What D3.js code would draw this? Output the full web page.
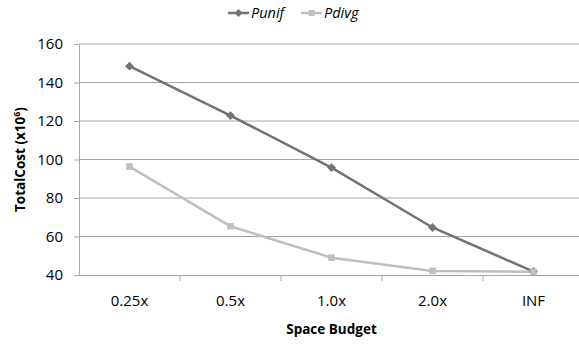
<!DOCTYPE html>
<html>
<head>
<meta charset="utf-8">
<script src="https://cdn.jsdelivr.net/npm/d3@7"></script>
<style>
  html, body { margin: 0; padding: 0; background: #fff; }
  svg { display: block; font-family: "Open Sans", Lato, sans-serif; }
</style>
</head>
<body>
<svg id="chart" width="579" height="345"></svg>
<script>
// Budget levels on the x axis
const categories = ["0.25x", "0.5x", "1.0x", "2.0x", "INF"];
// Total cost (x10^6) for each strategy
const punif = [148.5, 122.8, 95.8, 64.7, 41.8];
const pdivg = [96.3, 65.3, 49.0, 42.1, 41.7];
const yTicks = [40, 60, 80, 100, 120, 140, 160];

const series = [
  { name: "Punif", values: punif, color: "#737373", marker: "diamond" },
  { name: "Pdivg", values: pdivg, color: "#bfbfbf", marker: "square" }
];

const fontFamily = "'Open Sans', Lato, sans-serif";
const svg = d3.select("#chart");
const plotLeft = 79, plotRight = 584, plotTop = 44, plotBottom = 275;

const x = d3.scaleBand().domain(categories).range([plotLeft, plotRight]).padding(0);
const y = d3.scaleLinear().domain([40, 160]).range([plotBottom, plotTop]);

// Horizontal gridlines
svg.append("g")
  .selectAll("line")
  .data(yTicks.filter(d => d > 40))
  .join("line")
  .attr("x1", plotLeft).attr("x2", plotRight)
  .attr("y1", d => y(d)).attr("y2", d => y(d))
  .attr("stroke", "#a6a6a6").attr("stroke-width", 1);

// Y axis
const yAxis = svg.append("g")
  .attr("transform", `translate(${plotLeft},0)`)
  .call(d3.axisLeft(y).tickValues(yTicks).tickSize(5).tickPadding(11));
yAxis.select(".domain").attr("stroke", "#a6a6a6");
yAxis.selectAll(".tick line").attr("stroke", "#a6a6a6");
yAxis.selectAll(".tick text").attr("font-size", 15).attr("fill", "#000")
  .attr("font-family", fontFamily);

// X axis: ticks sit on band boundaries
const xAxis = svg.append("g")
  .attr("transform", `translate(0,${plotBottom})`)
  .call(d3.axisBottom(x).tickSize(0).tickPadding(20));
xAxis.select(".domain").attr("stroke", "#a6a6a6").attr("d", `M${plotLeft},0.5H${plotRight}`);
xAxis.selectAll(".tick text").attr("font-size", 15).attr("fill", "#000")
  .attr("font-family", fontFamily);
svg.append("g")
  .selectAll("line")
  .data(categories.slice(1))
  .join("line")
  .attr("x1", d => x(d)).attr("x2", d => x(d))
  .attr("y1", plotBottom).attr("y2", plotBottom + 6)
  .attr("stroke", "#a6a6a6");

// Axis titles
svg.append("text")
  .attr("x", x("1.0x") + x.bandwidth() / 2).attr("y", 334)
  .attr("text-anchor", "middle").attr("font-weight", "bold").attr("font-size", 13.5)
  .text("Space Budget");

const yTitle = svg.append("text")
  .attr("transform", `translate(25,${(plotTop + plotBottom) / 2}) rotate(-90)`)
  .attr("text-anchor", "middle").attr("font-weight", "bold").attr("font-size", 13.5);
yTitle.append("tspan").text("TotalCost (x10");
yTitle.append("tspan").attr("font-size", 9).attr("dy", -5).text("6");
yTitle.append("tspan").attr("dy", 5).text(")");

// Lines and markers
const line = d3.line()
  .x((d, i) => x(categories[i]) + x.bandwidth() / 2)
  .y(d => y(d));

const diamond = d3.symbol().type(d3.symbolDiamond2).size(50);
const square = d3.symbol().type(d3.symbolSquare2).size(56);

series.forEach(s => {
  svg.append("path")
    .datum(s.values)
    .attr("d", line)
    .attr("fill", "none")
    .attr("stroke", s.color)
    .attr("stroke-width", 2.5);
});
series.forEach(s => {
  svg.append("g")
    .selectAll("path")
    .data(s.values)
    .join("path")
    .attr("transform", (d, i) => `translate(${x(categories[i]) + x.bandwidth() / 2},${y(d)})`)
    .attr("d", s.marker === "diamond" ? diamond() : square())
    .attr("fill", s.color);
});

// Legend
const legend = svg.append("g");
const legendPos = [{ x: 228, tx: 251 }, { x: 301, tx: 324 }];
series.forEach((s, i) => {
  const lp = legendPos[i];
  legend.append("line")
    .attr("x1", lp.x).attr("x2", lp.x + 21)
    .attr("y1", 13).attr("y2", 13)
    .attr("stroke", s.color).attr("stroke-width", 2.5);
  legend.append("path")
    .attr("transform", `translate(${lp.x + 10.5},13)`)
    .attr("d", s.marker === "diamond" ? d3.symbol().type(d3.symbolDiamond2).size(40)() : d3.symbol().type(d3.symbolSquare2).size(45)())
    .attr("fill", s.color);
  legend.append("text")
    .attr("x", lp.tx).attr("y", 18)
    .attr("font-size", 14.5).attr("font-style", "italic")
    .text(s.name);
});
</script>
</body>
</html>
